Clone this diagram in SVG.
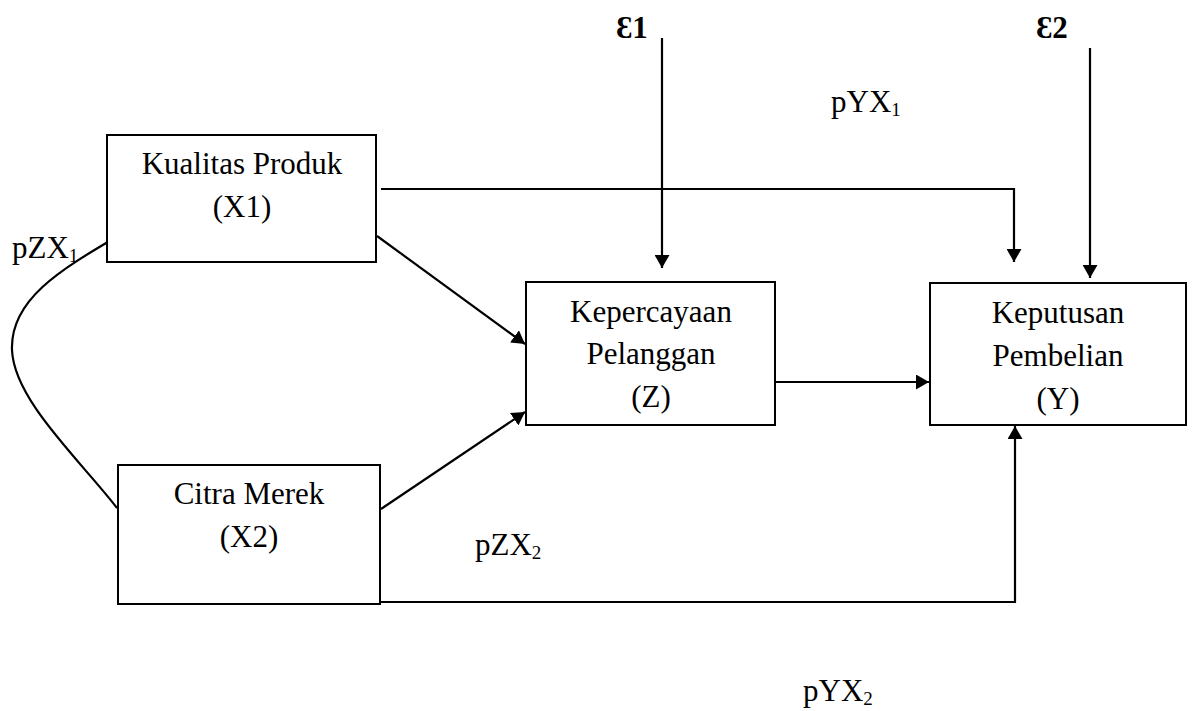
<svg xmlns="http://www.w3.org/2000/svg" width="1195" height="711" viewBox="0 0 1195 711">
<style>
.box{fill:#fff;stroke:#000;stroke-width:2}
.t{font-family:'Liberation Serif','DejaVu Serif',serif;font-size:31px;fill:#000;text-anchor:middle}
.lbl{font-family:'Liberation Serif','DejaVu Serif',serif;font-size:31px;fill:#000}
.sub{font-size:19px}
.eps{font-family:'Liberation Serif','DejaVu Serif',serif;font-size:31px;font-weight:bold;fill:#000}
.ln{fill:none;stroke:#000;stroke-width:2.2}
</style>
<defs>
<marker id="ah" markerUnits="userSpaceOnUse" markerWidth="14" markerHeight="15" refX="13" refY="7.5" orient="auto">
<path d="M0,0 L13,7.5 L0,15 z" fill="#000"/>
</marker>
</defs>
<rect width="1195" height="711" fill="#fff"/>
<g id="connectors">
<path class="ln" d="M118,236 C60,270 10,300 12,350 C14,400 80,460 117,508"/>
<line class="ln" x1="377" y1="236" x2="525" y2="344" marker-end="url(#ah)"/>
<line class="ln" x1="381" y1="509" x2="525" y2="412" marker-end="url(#ah)"/>
<polyline class="ln" points="381,189 1014,189 1014,262" marker-end="url(#ah)"/>
<line class="ln" x1="662" y1="38" x2="662" y2="268" marker-end="url(#ah)"/>
<line class="ln" x1="1090" y1="48" x2="1090" y2="278" marker-end="url(#ah)"/>
<line class="ln" x1="775" y1="382" x2="929" y2="382" marker-end="url(#ah)"/>
<polyline class="ln" points="381,602 1015,602 1015,426" marker-end="url(#ah)"/>
</g>
<g id="nodeX1">
<rect class="box" x="107" y="135" width="269" height="127"/>
<text class="t" x="242" y="174">Kualitas Produk</text>
<text class="t" x="242" y="217">(X1)</text>
</g>
<g id="nodeX2">
<rect class="box" x="118" y="465" width="262" height="139"/>
<text class="t" x="249" y="504">Citra Merek</text>
<text class="t" x="249" y="547">(X2)</text>
</g>
<g id="nodeZ">
<rect class="box" x="526" y="282" width="249" height="143"/>
<text class="t" x="651" y="322">Kepercayaan</text>
<text class="t" x="651" y="364">Pelanggan</text>
<text class="t" x="651" y="407">(Z)</text>
</g>
<g id="nodeY">
<rect class="box" x="930" y="283" width="256" height="142"/>
<text class="t" x="1058" y="323">Keputusan</text>
<text class="t" x="1058" y="366">Pembelian</text>
<text class="t" x="1058" y="409">(Y)</text>
</g>
<g id="labels">
<text class="eps" x="616" y="38">Ɛ1</text>
<text class="eps" x="1036" y="38">Ɛ2</text>
<text class="lbl" x="12" y="258">pZX<tspan class="sub" dy="4">1</tspan></text>
<text class="lbl" x="831" y="112">pYX<tspan class="sub" dy="4">1</tspan></text>
<text class="lbl" x="475" y="555">pZX<tspan class="sub" dy="4">2</tspan></text>
<text class="lbl" x="803" y="701">pYX<tspan class="sub" dy="4">2</tspan></text>
</g>
</svg>
